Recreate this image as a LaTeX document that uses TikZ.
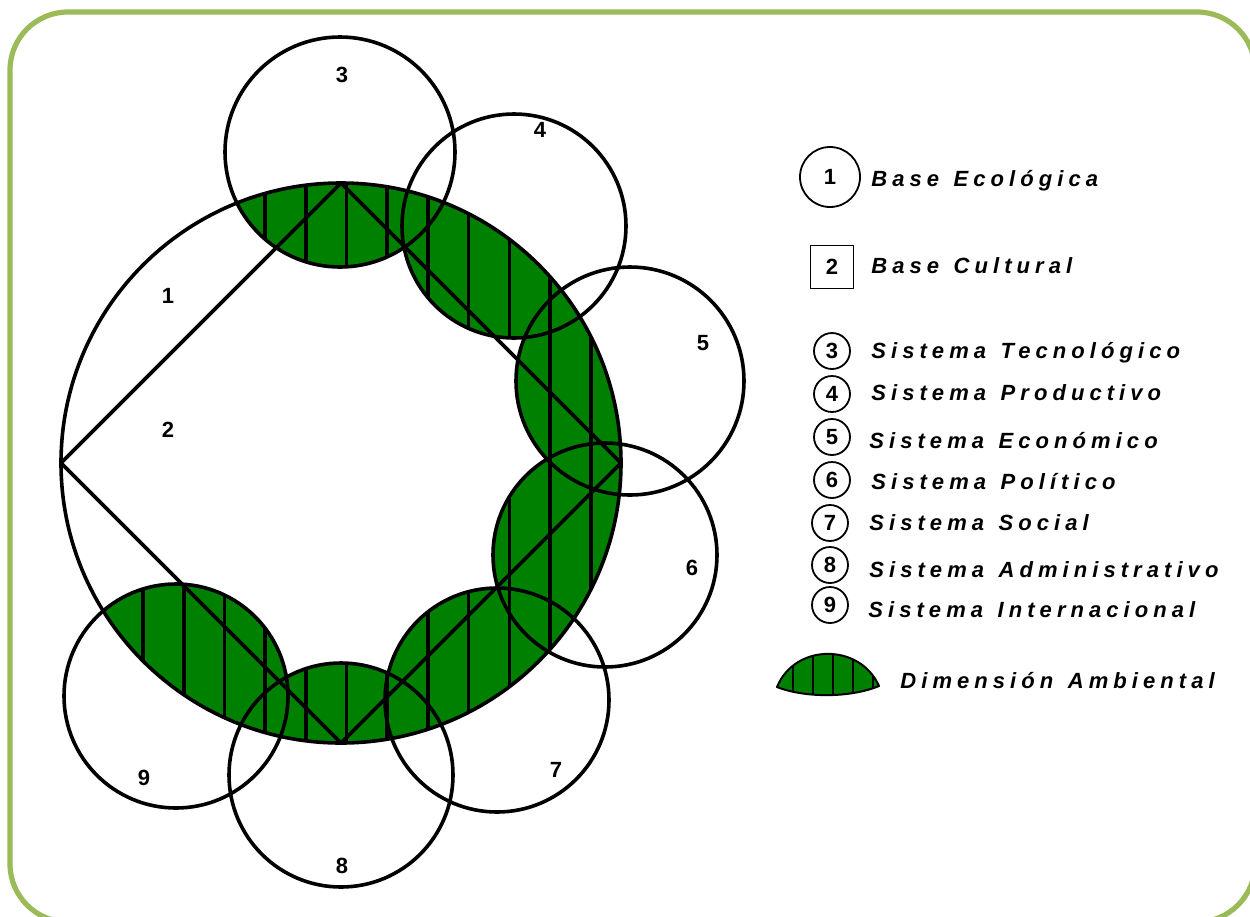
\documentclass[tikz,border=0pt]{standalone}
\usepackage{fontspec}
\setmainfont{Liberation Sans}
\newfontfamily\legendfont[LetterSpace=23,WordSpace=1.3]{Liberation Sans}
\usepackage{tikz}
\usetikzlibrary{positioning}
\definecolor{framegreen}{RGB}{155,187,89}
\definecolor{lensgreen}{RGB}{0,128,0}
\tikzset{
  outline/.style={line width=1.8pt},
  numlabel/.style={font=\bfseries\fontsize{11}{12}\selectfont, inner sep=0pt},
  legcirc/.style={circle, draw, line width=0.9pt, minimum size=18pt, inner sep=0pt, font=\bfseries\fontsize{11}{12}\selectfont},
  legtext/.style={anchor=base west, inner sep=0pt, font=\legendfont\bfseries\itshape\fontsize{11}{12}\selectfont},
}
\begin{document}
\begin{tikzpicture}[x=0.5pt,y=-0.5pt,line join=round]
        \useasboundingbox (0,0) rectangle (1250,917);
        % frame
        \draw[framegreen,line width=2.6pt,rounded corners=29pt] (10,12) rectangle (1255,922);
        \def\sistemas{3/340/152/115, 4/514/226/112, 5/630/381/114, 6/605/555/112, 7/497/700/112, 8/341/775/112, 9/176/696/112}
        \coordinate (o) at (341,463);
        \coordinate (w) at (61,463);
        \coordinate (n) at (341,183);
        \coordinate (e) at (621,463);
        \coordinate (s) at (341,743);
        % dimension ambiental
        \begin{scope}
            \clip (o) circle[radius=280];
            \fill[lensgreen] \foreach \k/\cx/\cy/\r in \sistemas {(\cx,\cy) circle[radius=\r]};
            \clip \foreach \k/\cx/\cy/\r in \sistemas {(\cx,\cy) circle[radius=\r]};
            \foreach \i in {0,...,11}
                \draw[outline] ({143+40.7*\i},150) -- ++(0,660);
        \end{scope}
        % bases
        \draw[outline] (o) circle[radius=280];
        \draw[outline] (w) -- (n) -- (e) -- (s) -- cycle;
        % sistemas
        \foreach \k/\cx/\cy/\r in \sistemas
            \draw[outline] (\cx,\cy) circle[radius=\r];
        \node[numlabel] (b1) at (168,296) {1};
        \node[numlabel] (b2) at (168,430) {2};
        \node[numlabel] (s3) at (342,75) {3};
        \node[numlabel] (s4) at (540,130) {4};
        \node[numlabel] (s5) at (703,343) {5};
        \node[numlabel] (s6) at (692,568) {6};
        \node[numlabel] (s7) at (556,770) {7};
        \node[numlabel] (s8) at (342,866) {8};
        \node[numlabel] (s9) at (144,778) {9};
        % legend
        \node[legcirc, minimum size=30pt] (l1) at (830,177) {1};
        \node[legtext] (t1) at (871,186) {Base Ecológica};
        \node[draw, line width=0.9pt, minimum size=21.5pt, inner sep=0pt, font=\bfseries\fontsize{11}{12}\selectfont] (l2) at (832,267) {2};
        \node[legtext] (t2) at (871,273) {Base Cultural};
        \node[legcirc] (l3) at (832,351) {3};
        \node[legtext] (t3) at (871,358) {Sistema Tecnológico};
        \node[legcirc] (l4) at (832,394) {4};
        \node[legtext] (t4) at (871,400) {Sistema Productivo};
        \node[legcirc] (l5) at (832,437) {5};
        \node[legtext] (t5) at (869,448) {Sistema Económico};
        \node[legcirc] (l6) at (832,480) {6};
        \node[legtext] (t6) at (871,489) {Sistema Político};
        \node[legcirc] (l7) at (830,523) {7};
        \node[legtext] (t7) at (869,530) {Sistema Social};
        \node[legcirc] (l8) at (830,565) {8};
        \node[legtext] (t8) at (869,577) {Sistema Administrativo};
        \node[legcirc] (l9) at (830,605) {9};
        \node[legtext] (t9) at (868,617) {Sistema Internacional};
        % legend lens
        \begin{scope}
            \clip (777,687) .. controls (795,643) and (860,643) .. (879,686) .. controls (850,698) and (805,698) .. cycle;
            \fill[lensgreen] (770,640) rectangle (885,700);
            \foreach \i in {0,...,4}
                \draw[line width=1pt] ({793+20*\i},640) -- ++(0,60);
        \end{scope}
        \draw[line width=1pt] (777,687) .. controls (795,643) and (860,643) .. (879,686) .. controls (850,698) and (805,698) .. cycle;
        \node[legtext] (t10) at (900,688) {Dimensión Ambiental};
    \end{tikzpicture}
\end{document}
